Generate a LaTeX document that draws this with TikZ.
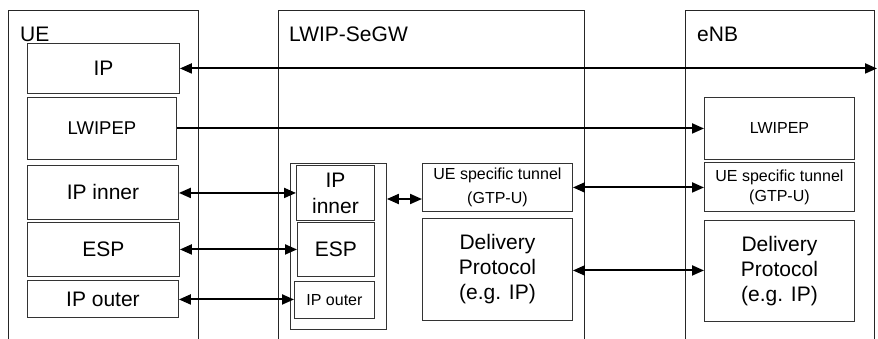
\documentclass[tikz,border=0pt]{standalone}
\usepackage{fontspec}
\setmainfont{Liberation Sans}
\usetikzlibrary{arrows.meta}
\begin{document}
\begin{tikzpicture}[x=1pt,y=-1pt,
  col/.style={draw=black!85, line width=0.9pt, anchor=north west, inner sep=0pt, minimum height=360pt},
  lay/.style={draw=black!80, line width=0.9pt, anchor=north west, inner sep=0pt, align=center, font=\fontsize{21}{25}\selectfont},
  small/.style={font=\fontsize{16}{20}\selectfont},
  title/.style={anchor=base west, inner sep=0pt, font=\fontsize{21}{25}\selectfont},
  one/.style={line width=2pt, -{Triangle[length=12pt,width=10pt]}},
  two/.style={line width=2pt, {Triangle[length=12pt,width=10pt]}-{Triangle[length=12pt,width=10pt]}},
]
\useasboundingbox (0,0) rectangle (878,338);
\clip (0,0) rectangle (878,338);

% columns
\node[col, minimum width=190pt] (uecol) at (8,10) {};
\node[col, minimum width=306pt] (sgcol) at (278,10) {};
\node[col, minimum width=189pt] (enbcol) at (685,10) {};
\node[title] (uelab) at (20,41) {UE};
\node[title] (sglab) at (289,41) {LWIP-SeGW};
\node[title] (enblab) at (697,41) {eNB};

% UE stack
\node[lay, minimum width=152pt, minimum height=50pt] (ueip) at (27,43) {IP};
\node[lay, minimum width=149pt, minimum height=62pt, font=\fontsize{18.5}{22}\selectfont] (uelw) at (27,97) {LWIPEP};
\node[lay, minimum width=151pt, minimum height=54pt] (ueinner) at (27,165) {IP inner};
\node[lay, minimum width=152pt, minimum height=54pt] (ueesp) at (27,222) {ESP};
\node[lay, minimum width=151pt, minimum height=37pt] (ueouter) at (27,280) {IP outer};

% LWIP-SeGW stack
\node[lay, minimum width=96pt, minimum height=166pt] (cont) at (290,163) {};
\node[lay, minimum width=78pt, minimum height=55pt, font=\fontsize{21}{26}\selectfont] (sginner) at (296,165) {IP\\inner};
\node[lay, minimum width=77pt, minimum height=54pt] (sgesp) at (297,222) {ESP};
\node[lay, minimum width=80pt, minimum height=37pt, small] (sgouter) at (294,281) {IP outer};
\node[lay, minimum width=150pt, minimum height=48pt, font=\fontsize{16}{24}\selectfont] (tunS) at (422,163) {UE specific tunnel\\(GTP-U)};
\node[lay, minimum width=150pt, minimum height=102pt] (delS) at (422,218) {Delivery\\Protocol\\(e.g. IP)};

% eNB stack
\node[lay, minimum width=150pt, minimum height=62pt, small] (enblw) at (704,97) {LWIPEP};
\node[lay, minimum width=150pt, minimum height=49pt, small] (tunE) at (704,162) {UE specific tunnel\\(GTP-U)};
\node[lay, minimum width=150pt, minimum height=101pt] (delE) at (704,220) {Delivery\\Protocol\\(e.g. IP)};

% connectors
\coordinate (ipend) at (877,68);
\draw[two] (ueip.east) -- (ueip.east -| ipend);
\draw[one] (uelw.east) -- (uelw.east -| enblw.west);
\draw[two] ([yshift=-0.5pt]ueinner.east) coordinate (a1) -- (a1 -| sginner.west);
\draw[two] (ueesp.east) -- (ueesp.east -| sgesp.west);
\draw[two] ([yshift=-0.5pt]ueouter.east) coordinate (a2) -- (a2 -| sgouter.west);
\draw[two] ([yshift=-36pt]cont.north east) coordinate (a3) -- (a3 -| tunS.west);
\draw[two] (tunS.east) -- (tunS.east -| tunE.west);
\draw[two] ([yshift=-1pt]delS.east) coordinate (a4) -- (a4 -| delE.west);
\end{tikzpicture}
\end{document}
